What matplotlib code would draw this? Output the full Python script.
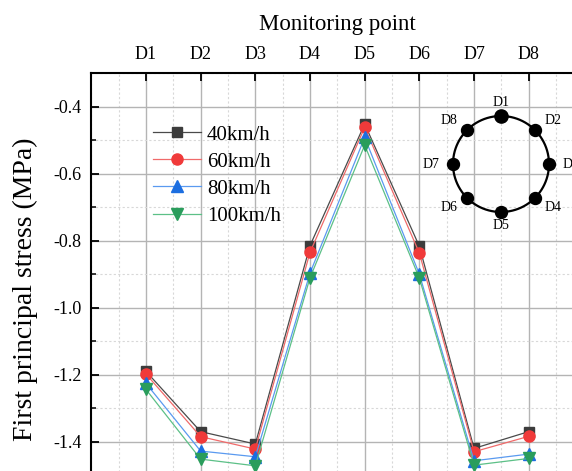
#!/usr/bin/env python3
import numpy as np
import matplotlib
matplotlib.use("Agg")
import matplotlib.pyplot as plt
from matplotlib.ticker import MultipleLocator

plt.rcParams['font.family'] = ['Liberation Serif', 'DejaVu Serif']
plt.rcParams['axes.unicode_minus'] = False

# monitoring points and stress values (MPa)
points = ['D1', 'D2', 'D3', 'D4', 'D5', 'D6', 'D7', 'D8']
s40 = [-1.19, -1.370, -1.407, -0.815, -0.452, -0.817, -1.420, -1.370]
s60 = [-1.198, -1.385, -1.422, -0.835, -0.462, -0.837, -1.430, -1.384]
s80 = [-1.226, -1.428, -1.445, -0.897, -0.492, -0.900, -1.457, -1.437]
s100 = [-1.244, -1.452, -1.472, -0.911, -0.515, -0.912, -1.470, -1.450]
labels = ['40km/h', '60km/h', '80km/h', '100km/h']

W, H = 572, 471
fig = plt.figure(figsize=(W / 100, H / 100), dpi=100)
ax = fig.add_axes([91.3 / W, -4.2 / H, 492.1 / W, 402.1 / H])

x = np.arange(1, len(points) + 1)
styles = [
    dict(color='#4a4a4a', marker='s', ms=6.5, mfc='#3c3c3c', mec='#3c3c3c'),
    dict(color='#f06a6a', marker='o', ms=8, mfc='#f03a3a', mec='#f03a3a'),
    dict(color='#5a9af0', marker='^', ms=8, mfc='#1c6ee0', mec='#1c6ee0'),
    dict(color='#5cc087', marker='v', ms=8, mfc='#2a9d5c', mec='#2a9d5c'),
]
for ys, lab, st in zip([s40, s60, s80, s100], labels, styles):
    ax.plot(x, ys, lw=0.9, label=lab, zorder=3, **st)

ax.set_xlim(0, 9)
ax.set_ylim(-1.5, -0.3)
ax.set_xticks(x)
ax.set_xticklabels(points)
ax.set_yticks([-1.4, -1.2, -1.0, -0.8, -0.6, -0.4])
ax.xaxis.set_minor_locator(MultipleLocator(0.5))
ax.yaxis.set_minor_locator(MultipleLocator(0.1))
ax.xaxis.tick_top()
ax.xaxis.set_label_position('top')
ax.tick_params(axis='both', which='major', direction='in', length=6, width=1.3,
               labelsize=13, pad=7)
ax.tick_params(axis='y', which='minor', direction='in', length=3.5, width=1.1)
ax.tick_params(axis='x', which='minor', length=0)
ax.tick_params(axis='x', bottom=False, labelbottom=False)
ax.tick_params(axis='y', right=False)

ax.grid(which='major', color='#b4b4b4', lw=1.0, zorder=0)
ax.grid(which='minor', color='#d8d8d8', lw=0.8, ls=(0, (2, 2)), zorder=0)
ax.set_axisbelow(True)
for sp in ax.spines.values():
    sp.set_linewidth(1.5)

ax.set_xlabel('Monitoring point', fontsize=16.5, labelpad=12)
ax.set_ylabel('First principal stress (MPa)', fontsize=20)
ax.yaxis.set_label_coords(-0.108, 0.463)

ax.legend(loc='upper left', bbox_to_anchor=(152.7 / W, (H - 125) / H),
          bbox_transform=fig.transFigure, frameon=False, fontsize=15,
          handlelength=2.3, handletextpad=0.3, labelspacing=0.36,
          borderpad=0, borderaxespad=0)

# sketch of the monitoring points around the section
ins = fig.add_axes([420 / W, (H - 240) / H, 152 / W, 160 / H])
ins.set_xlim(420, 572)
ins.set_ylim(240, 80)
ins.axis('off')
ins.patch.set_alpha(0)
cx, cy, r = 501, 164, 48
t = np.linspace(0, 2 * np.pi, 200)
ins.plot(cx + r * np.cos(t), cy + r * np.sin(t), color='black', lw=1.6)
for k, name in enumerate(points):
    a = np.deg2rad(90 - 45 * k)
    px, py = cx + r * np.cos(a), cy - r * np.sin(a)
    ins.plot(px, py, 'o', color='black', ms=9.5 if k == 0 else 8.6, clip_on=False)
    c, s = np.cos(a), np.sin(a)
    ha = 'center' if abs(c) < 0.1 else ('left' if c > 0 else 'right')
    ins.annotate(name, (px, py), xytext=(10 * c, 10 * s), textcoords='offset points',
                 ha=ha, va='center', fontsize=10, annotation_clip=False)

fig.savefig('out.png', dpi=100)
